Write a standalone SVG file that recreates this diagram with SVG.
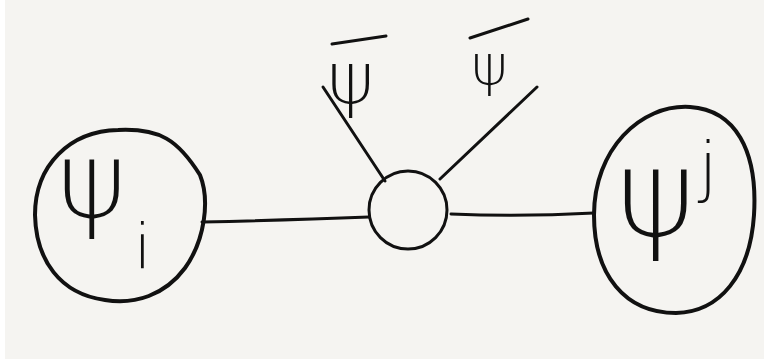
<svg xmlns="http://www.w3.org/2000/svg" width="764" height="360" viewBox="0 0 764 360">
<style>
.ink{fill:none;stroke:#111;stroke-linecap:round;stroke-linejoin:round}
.big{stroke-width:4}
.thin{stroke-width:3}
.lbl{font-family:"DejaVu Sans","Liberation Sans",sans-serif;font-weight:200;fill:#111}
</style>
<rect x="0" y="0" width="764" height="360" fill="#ffffff"/>
<rect x="5" y="0" width="759" height="359" fill="#f5f4f1"/>
<g id="connectors">
<path class="ink thin" d="M202 222 Q290 220 369 217"/>
<path class="ink thin" d="M451 214 Q520 217 594 213"/>
<path class="ink thin" d="M323 87 L385 181"/>
<path class="ink thin" d="M537 87 L440 179"/>
</g>
<g id="node-psi-i">
<path class="ink big" d="M118 130 C160 128 178 140 200 175 C210 200 205 240 185 268 C165 295 135 305 105 300 C60 294 36 260 35 215 C35 165 70 131 118 130 Z"/>
<text class="lbl" x="57" y="217" font-size="106">ψ</text>
<text class="lbl" x="134" y="268" font-size="62">i</text>
</g>
<g id="node-center">
<ellipse class="ink thin" cx="408" cy="210" rx="39" ry="39"/>
</g>
<g id="node-psi-j">
<path class="ink big" d="M690 107 C735 110 758 150 754 215 C750 275 720 312 676 313 C625 313 594 275 594 215 C594 150 640 104 690 107 Z"/>
<text class="lbl" x="616" y="236" font-size="121">ψ</text>
<text class="lbl" x="699" y="189" font-size="65">j</text>
</g>
<g id="label-psibar-left">
<text class="lbl" x="327" y="103" font-size="72">ψ</text>
<path class="ink thin" d="M332 44 L386 36"/>
</g>
<g id="label-psibar-right">
<text class="lbl" x="471" y="84" font-size="56">ψ</text>
<path class="ink thin" d="M470 38 L528 19"/>
</g>
</svg>
